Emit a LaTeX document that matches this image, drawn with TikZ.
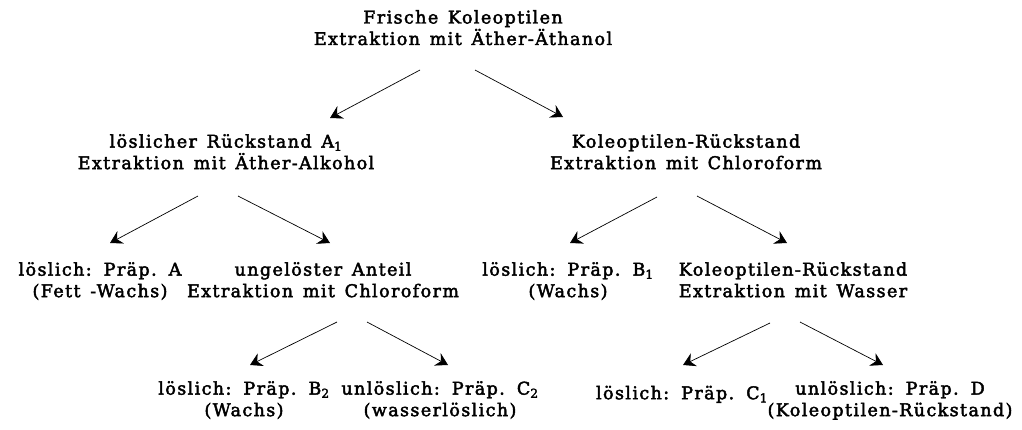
\documentclass[tikz,border=0pt]{standalone}
\usepackage{fontspec}
\setmainfont{DejaVu Serif}[LetterSpace=8,WordSpace=1.4,FakeBold=2.5]
\usetikzlibrary{arrows.meta}
\tikzset{
  lbl/.style={align=center, inner sep=0pt, anchor=north,
    font=\fontsize{17.5}{21.5}\selectfont,
    execute at begin node={\rule{0pt}{18pt}}},
  arr/.style={-{Stealth[length=12pt,width=14pt,inset=4pt]}, line width=0.7pt},
}
\begin{document}
\begin{tikzpicture}[x=1pt,y=-1pt]
\useasboundingbox (0,0) rectangle (1022,429);
% level 1
\node[lbl] (top) at (463,10) {Frische Koleoptilen\\Extraktion mit Äther-Äthanol};
% level 2
\node[lbl] (l2a) at (226,134) {löslicher Rückstand A\textsubscript{1}\\Extraktion mit Äther-Alkohol};
\node[lbl] (l2b) at (686,134) {Koleoptilen-Rückstand\\Extraktion mit Chloroform};
% level 3
\node[lbl] (pa) at (100,262) {löslich: Präp. A\\(Fett -Wachs)};
\node[lbl] (ung) at (323,262) {ungelöster Anteil\\Extraktion mit Chloroform};
\node[lbl] (pb1) at (568,262) {löslich: Präp. B\textsubscript{1}\\(Wachs)};
\node[lbl] (kw) at (793,262) {Koleoptilen-Rückstand\\Extraktion mit Wasser};
% level 4
\node[lbl] (pb2) at (244,381) {löslich: Präp. B\textsubscript{2}\\(Wachs)};
\node[lbl] (pc2) at (440,381) {unlöslich: Präp. C\textsubscript{2}\\(wasserlöslich)};
\node[lbl] (pc1) at (682,381) {löslich: Präp. C\textsubscript{1}};
\node[lbl] (pd) at (890,381) {unlöslich: Präp. D\\(Koleoptilen-Rückstand)};
% arrow end points
\coordinate (s1) at (420,70);  \coordinate (t1) at (330,118);
\coordinate (s2) at (475,70);  \coordinate (t2) at (563,117);
\coordinate (s3) at (198,196); \coordinate (t3) at (110,243);
\coordinate (s4) at (238,196); \coordinate (t4) at (330,243);
\coordinate (s5) at (657,197); \coordinate (t5) at (570,243);
\coordinate (s6) at (697,196); \coordinate (t6) at (787,243);
\coordinate (s7) at (337,322); \coordinate (t7) at (250,365);
\coordinate (s8) at (367,322); \coordinate (t8) at (448,365);
\coordinate (s9) at (770,323); \coordinate (t9) at (683,365);
\coordinate (s10) at (800,322); \coordinate (t10) at (883,365);
\foreach \i in {1,...,10} \draw[arr] (s\i) -- (t\i);
\end{tikzpicture}
\end{document}
